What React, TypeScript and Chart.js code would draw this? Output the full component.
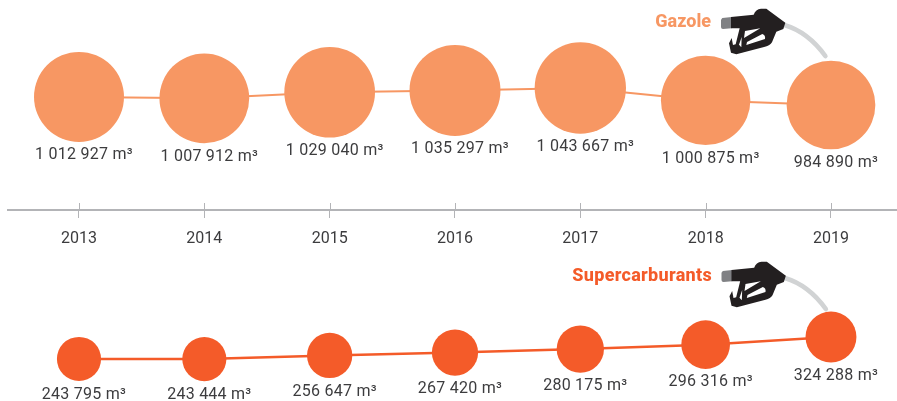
import React, { useEffect, useRef } from "react";
import { Chart, registerables } from "chart.js";

Chart.register(...registerables);

const years = [2013, 2014, 2015, 2016, 2017, 2018, 2019];
const gazole = [1012927, 1007912, 1029040, 1035297, 1043667, 1000875, 984890];
const supercarburants = [243795, 243444, 256647, 267420, 280175, 296316, 324288];
const gazoleLabels = ["1 012 927 m³", "1 007 912 m³", "1 029 040 m³", "1 035 297 m³", "1 043 667 m³", "1 000 875 m³", "984 890 m³"];
const superLabels = ["243 795 m³", "243 444 m³", "256 647 m³", "267 420 m³", "280 175 m³", "296 316 m³", "324 288 m³"];
const seriesNames = ["Gazole", "Supercarburants"];

const ORANGE = "#F79763";
const RED = "#F45B29";
const TEXT = "#3C3C3E";
const AXIS = "#B3B4B7";
const R_K = 0.0447;

const radius = (ctx: any) => {
  const v = ctx.raw?.y;
  return typeof v === "number" ? R_K * Math.sqrt(v) : 0;
};

function drawNozzle(c: CanvasRenderingContext2D, ox: number, oy: number) {
  c.save();
  c.translate(ox, oy);
  c.scale(1 / 3, 1 / 3);
  c.lineJoin = "round";
  c.beginPath();
  c.moveTo(208, 60);
  c.bezierCurveTo(262, 76, 300, 110, 331, 153);
  c.strokeStyle = "#D1D3D4";
  c.lineWidth = 14;
  c.lineCap = "round";
  c.stroke();
  c.beginPath();
  c.moveTo(22, 39);
  c.lineTo(50, 36);
  c.lineTo(50, 70);
  c.lineTo(24, 72);
  c.quadraticCurveTo(18, 72, 18, 66);
  c.lineTo(18, 44);
  c.closePath();
  c.fillStyle = "#808184";
  c.fill();
  const p = new Path2D();
  p.moveTo(48, 36);
  p.lineTo(116, 29);
  p.quadraticCurveTo(122, 12, 138, 11);
  p.lineTo(154, 11);
  p.lineTo(211, 53);
  p.lineTo(205, 72);
  p.lineTo(184, 80);
  p.lineTo(171, 112);
  p.quadraticCurveTo(165, 122, 150, 125);
  p.lineTo(64, 148);
  p.lineTo(48, 143);
  p.lineTo(42, 115);
  p.lineTo(50, 99);
  p.lineTo(54, 120);
  p.lineTo(62, 118);
  p.lineTo(74, 70);
  p.lineTo(48, 70);
  p.closePath();
  p.moveTo(90, 78);
  p.lineTo(136, 70);
  p.lineTo(87, 99);
  p.closePath();
  p.moveTo(96, 111);
  p.lineTo(142, 87);
  p.quadraticCurveTo(152, 90, 150, 102);
  p.lineTo(94, 120);
  p.closePath();
  p.moveTo(72, 119);
  p.lineTo(80, 96);
  p.lineTo(79, 127);
  p.closePath();
  c.fillStyle = "#231F20";
  c.fill(p, "evenodd");
  c.restore();
}

const decorations = {
  id: "decorations",
  beforeDatasetsDraw(chart: any) {
    const c = chart.ctx as CanvasRenderingContext2D;
    const x = chart.scales.x;
    const axisY = chart.scales.yG.getPixelForValue(621568);
    c.save();
    c.strokeStyle = AXIS;
    c.lineWidth = 1;
    years.forEach((yr) => {
      const px = Math.round(x.getPixelForValue(yr)) + 0.5;
      c.beginPath();
      c.moveTo(px, axisY - 7);
      c.lineTo(px, axisY);
      c.stroke();
    });
    c.restore();
  },
  afterDatasetsDraw(chart: any) {
    const c = chart.ctx as any;
    const texts = [gazoleLabels, superLabels];
    c.save();
    c.font = "16px Roboto";
    c.letterSpacing = "0.25px";
    c.fillStyle = TEXT;
    c.textAlign = "center";
    c.textBaseline = "middle";
    chart.data.datasets.forEach((ds: any, i: number) => {
      chart.getDatasetMeta(i).data.forEach((pt: any, j: number) => {
        const r = R_K * Math.sqrt(ds.data[j].y);
        c.fillText(texts[i][j], pt.x + 5, pt.y + r + 13.5);
      });
    });
    c.font = "800 18px Roboto";
    c.textAlign = "right";
    c.letterSpacing = "0px";
    c.fillStyle = ORANGE;
    c.fillText(seriesNames[0], 711, 22);
    c.letterSpacing = "0.3px";
    c.fillStyle = RED;
    c.fillText(seriesNames[1], 712, 276);
    c.restore();
    drawNozzle(c, 715, 5);
    drawNozzle(c, 715.5, 258);
  },
};

export default function App() {
  const ref = useRef<HTMLCanvasElement>(null);
  useEffect(() => {
    const chart = new Chart(ref.current!, {
      type: "line",
      data: {
        datasets: [
          {
            label: seriesNames[0],
            data: years.map((x, i) => ({ x, y: gazole[i] })),
            yAxisID: "yG",
            borderColor: ORANGE,
            backgroundColor: ORANGE,
            pointBackgroundColor: ORANGE,
            pointBorderWidth: 0,
            borderWidth: 2,
            pointRadius: radius,
            tension: 0,
            clip: false,
          },
          {
            label: seriesNames[1],
            data: years.map((x, i) => ({ x, y: supercarburants[i] })),
            yAxisID: "yS",
            borderColor: RED,
            backgroundColor: RED,
            pointBackgroundColor: RED,
            pointBorderWidth: 0,
            borderWidth: 2.5,
            pointRadius: radius,
            tension: 0,
            clip: false,
          },
        ],
      },
      options: {
        responsive: false,
        animation: false,
        events: [],
        layout: { padding: { left: 8 }, autoPadding: false },
        plugins: { legend: { display: false }, tooltip: { enabled: false } },
        scales: {
          x: {
            type: "linear",
            position: { yG: 621568 } as any,
            min: 2012.4335,
            max: 2019.5268,
            afterBuildTicks: (s: any) => {
              s.ticks = years.map((value) => ({ value }));
            },
            afterFit: (s: any) => {
              s.height = 0;
              s.paddingLeft = 0;
              s.paddingRight = 0;
              s.paddingTop = 0;
              s.paddingBottom = 0;
            },
            grid: { drawOnChartArea: false, tickLength: 7, tickColor: AXIS, tickWidth: 1 },
            border: { color: AXIS, width: 2 },
            ticks: {
              autoSkip: false,
              maxRotation: 0,
              color: TEXT,
              padding: 12,
              font: { family: "Roboto", size: 16 },
              callback: (v: any) => String(v),
            },
          },
          yG: { display: false, min: -39331, max: 1348212 },
          yS: { display: false, min: 89856, max: 1558720 },
        },
      },
      plugins: [decorations],
    });
    return () => chart.destroy();
  }, []);
  return (
    <div style={{ position: "absolute", left: 0, top: 0, width: 897, height: 401 }}>
      <canvas ref={ref} width={897} height={401} style={{ display: "block" }} />
    </div>
  );
}
